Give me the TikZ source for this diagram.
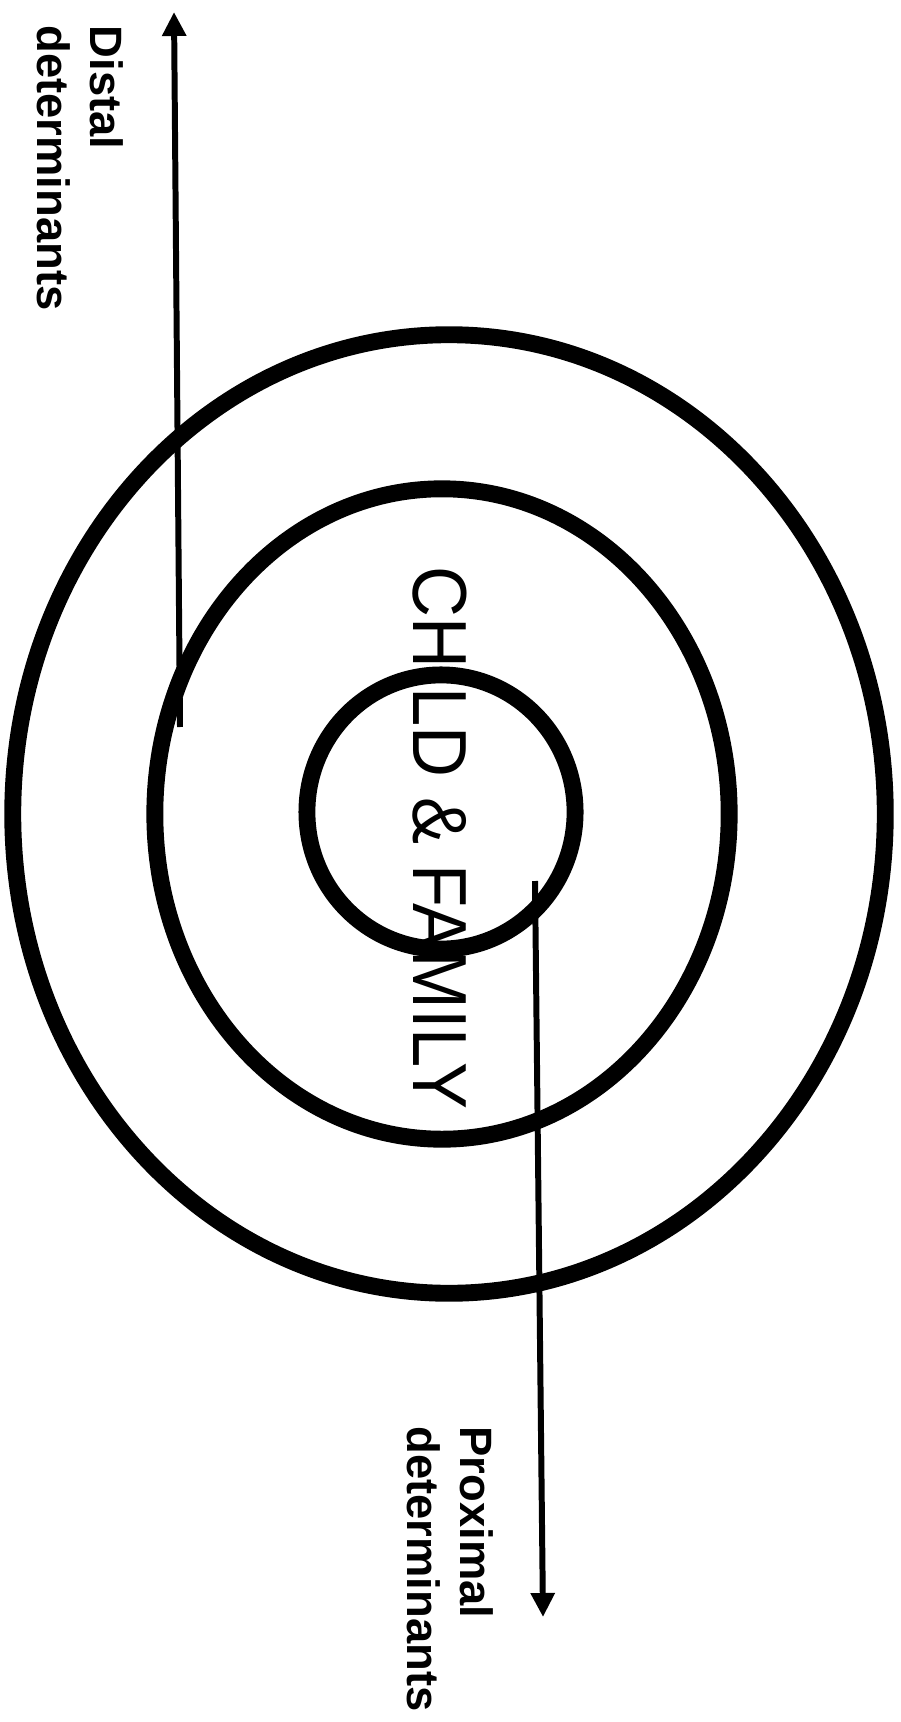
\documentclass[tikz,border=0pt]{standalone}
\usepackage{fontspec}
\setmainfont{Liberation Sans}
\usetikzlibrary{positioning,calc,arrows.meta,shapes.geometric}

\begin{document}
\begin{tikzpicture}[
    x=0.01cm, y=-0.01cm,
    ring/.style={draw, ellipse, line width=4.8pt, inner sep=0pt, outer sep=0pt},
    arrow/.style={-{Triangle[length=0.24cm, width=0.23cm]}, line width=1.7pt},
    sidetext/.style={rotate=-90, anchor=north west, inner sep=0pt, align=left,
        font=\fontsize{12.9pt}{15pt}\selectfont\bfseries},
]
\useasboundingbox (0,0) rectangle (901,1722);

% Rings
\node[ring, minimum width=8.72cm, minimum height=9.58cm] (outer) at (449,814) {};
\node[ring, minimum width=5.74cm, minimum height=6.5cm] (middle) at (442,814) {};
\node[ring, minimum width=2.68cm, minimum height=2.74cm] (inner) at (441,812) {};

% Centre text
\node[rotate=-90, xscale=0.92, inner sep=0pt, font=\fontsize{21.8pt}{24pt}\selectfont] (core) at (440,838) {CHILD \& FAMILY};

% Arrows
\coordinate (distal-tail) at (180,727);
\coordinate (distal-tip) at (174,12);
\coordinate (prox-tail) at (535,881);
\coordinate (prox-tip) at (543,1617);
\draw[arrow] (distal-tail) -- (distal-tip);
\draw[arrow] (prox-tail) -- (prox-tip);

% Labels
\node[sidetext] (distal) at (124,25) {Distal\\determinants};
\node[sidetext] (proximal) at (494,1426) {Proximal\\determinants};
\end{tikzpicture}
\end{document}
